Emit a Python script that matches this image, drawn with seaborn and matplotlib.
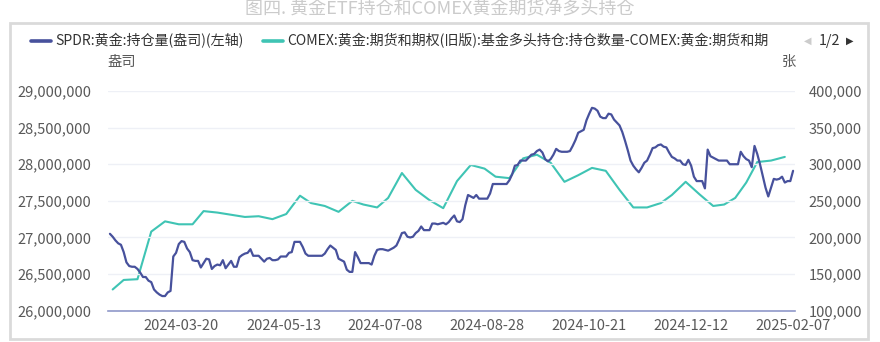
import numpy as np
import pandas as pd
import matplotlib
matplotlib.use("Agg")
import matplotlib.pyplot as plt
import seaborn as sns
from matplotlib.patches import Rectangle
from matplotlib.ticker import FuncFormatter, FixedLocator

sns.set_theme(style="white")
plt.rcParams["font.family"] = ["Noto Sans CJK SC", "DejaVu Sans"]
plt.rcParams["axes.unicode_minus"] = False

# US trading calendar for the SPDR series (category axis, one slot per trading day)
holidays = ["2024-02-19", "2024-03-29", "2024-05-27", "2024-06-19", "2024-07-04",
            "2024-09-02", "2024-11-28", "2024-12-25", "2025-01-01", "2025-01-09",
            "2025-01-20"]
trade_days = pd.bdate_range("2024-02-12", "2025-02-07").difference(pd.to_datetime(holidays))

# SPDR gold holdings, million ounces, one value per trading day
spdr_moz = [
    27.05, 27.01, 26.96, 26.92, 26.90, 26.80, 26.66, 26.61, 26.60, 26.60,
    26.57, 26.52, 26.46, 26.46, 26.41, 26.39, 26.29, 26.25, 26.22, 26.20,
    26.20, 26.25, 26.27, 26.74, 26.79, 26.91, 26.95, 26.94, 26.85, 26.80,
    26.69, 26.68, 26.68, 26.59, 26.65, 26.71, 26.70, 26.57, 26.61, 26.63,
    26.62, 26.69, 26.58, 26.63, 26.68, 26.60, 26.60, 26.73, 26.76, 26.78,
    26.79, 26.84, 26.75, 26.75, 26.75, 26.71, 26.67, 26.71, 26.72, 26.69,
    26.69, 26.70, 26.74, 26.74, 26.74, 26.79, 26.80, 26.94, 26.94, 26.94,
    26.87, 26.78, 26.75, 26.75, 26.75, 26.75, 26.75, 26.75, 26.78, 26.84,
    26.89, 26.86, 26.83, 26.71, 26.69, 26.67, 26.56, 26.53, 26.53, 26.80,
    26.73, 26.65, 26.65, 26.65, 26.65, 26.63, 26.75, 26.83, 26.84, 26.84,
    26.83, 26.82, 26.84, 26.86, 26.89, 26.97, 27.06, 27.07, 27.01, 27.00,
    27.01, 27.06, 27.09, 27.15, 27.10, 27.10, 27.10, 27.19, 27.19, 27.18,
    27.19, 27.20, 27.18, 27.21, 27.26, 27.30, 27.22, 27.21, 27.25, 27.44,
    27.58, 27.56, 27.54, 27.58, 27.53, 27.53, 27.53, 27.53, 27.60, 27.73,
    27.73, 27.73, 27.73, 27.73, 27.73, 27.78, 27.86, 27.98, 27.99, 28.05,
    28.05, 28.05, 28.09, 28.13, 28.14, 28.18, 28.20, 28.16, 28.07, 28.04,
    28.07, 28.13, 28.21, 28.18, 28.17, 28.17, 28.17, 28.18, 28.25, 28.33,
    28.43, 28.45, 28.47, 28.60, 28.69, 28.77, 28.76, 28.73, 28.65, 28.63,
    28.63, 28.69, 28.68, 28.61, 28.57, 28.53, 28.44, 28.32, 28.19, 28.05,
    27.98, 27.93, 27.89, 27.95, 28.02, 28.05, 28.13, 28.22, 28.23, 28.26,
    28.27, 28.24, 28.23, 28.16, 28.10, 28.08, 28.05, 28.05, 28.00, 27.99,
    28.06, 27.98, 27.83, 27.77, 27.77, 27.77, 27.67, 28.20, 28.11, 28.09,
    28.07, 28.05, 28.05, 28.05, 28.05, 28.00, 28.00, 28.00, 28.00, 28.17,
    28.11, 28.07, 28.05, 27.96, 28.25, 28.14, 28.00, 27.84, 27.68, 27.56,
    27.68, 27.80, 27.79, 27.80, 27.83, 27.75, 27.77, 27.77, 27.91,
]

# COMEX managed-money net long (contracts), weekly CFTC report dates (Tuesdays)
comex_dates = pd.date_range("2024-02-13", "2025-02-04", freq="W-TUE")
comex_net = [
    129000, 142000, 143000, 208000, 222000, 218000, 218000, 236000, 234000, 231000,
    228000, 229000, 225000, 232000, 257000, 247000, 243000, 235000, 250000, 245000,
    241000, 254000, 288000, 265000, 251000, 240000, 277000, 299000, 294000, 283000,
    281000, 308000, 313000, 302000, 276000, 285000, 295000, 291000, 265000, 241000,
    241000, 247000, 258000, 276000, 259000, 243000, 245000, 254000, 275000, 303000,
    305000, 310000,
]

tick_dates = ["2024-03-20", "2024-05-13", "2024-07-08", "2024-08-28",
              "2024-10-21", "2024-12-12", "2025-02-07"]

spdr_label = "SPDR:黄金:持仓量(盎司)(左轴)"
comex_label = "COMEX:黄金:期货和期权(旧版):基金多头持仓:持仓数量-COMEX:黄金:期货和期"

spdr_df = pd.DataFrame({"pos": np.arange(len(trade_days)),
                        "value": np.array(spdr_moz) * 1_000_000})
comex_df = pd.DataFrame({"pos": trade_days.get_indexer(comex_dates),
                         "value": comex_net})

SPDR_COLOR = "#47519c"
COMEX_COLOR = "#3fc4b4"
TEXT = "#595959"

W, H = 880, 342
fig = plt.figure(figsize=(W / 100, H / 100), dpi=100)
fig.patch.set_facecolor("white")

# outer frame
fig.add_artist(Rectangle((10 / W, 1 - 339 / H), 858 / W, (339 - 23) / H,
                         transform=fig.transFigure, fill=False,
                         edgecolor="#dadada", linewidth=2.0))

L, R, T, B = 108, 795, 91, 310.7
ax = fig.add_axes([L / W, 1 - B / H, (R - L) / W, (B - T) / H])
ax2 = ax.twinx()

sns.lineplot(data=spdr_df, x="pos", y="value", ax=ax, color=SPDR_COLOR,
             linewidth=1.6, label=spdr_label, legend=False)
sns.lineplot(data=comex_df, x="pos", y="value", ax=ax2, color=COMEX_COLOR,
             linewidth=1.5, label=comex_label, legend=False)

n = len(trade_days)
ax.set_xlim(-0.7, n - 1 + 0.7)
ax.set_ylim(26_000_000, 29_000_000)
ax2.set_ylim(100_000, 400_000)
ax.set_yticks(np.arange(26_000_000, 29_000_001, 500_000))
ax2.set_yticks(np.arange(100_000, 400_001, 50_000))

comma = FuncFormatter(lambda v, p: f"{int(round(v)):,}")
ax.yaxis.set_major_formatter(comma)
ax2.yaxis.set_major_formatter(comma)

tick_pos = trade_days.get_indexer(pd.to_datetime(tick_dates))
ax.xaxis.set_major_locator(FixedLocator(tick_pos))
ax.set_xticklabels(tick_dates)

for a in (ax, ax2):
    a.set_xlabel("")
    a.set_ylabel("")
    for s in a.spines.values():
        s.set_visible(False)
    a.tick_params(length=0, labelsize=10.5, labelcolor=TEXT)
    a.set_facecolor("none")
ax.tick_params(axis="y", pad=12)
ax2.tick_params(axis="y", pad=10)
ax.tick_params(axis="x", pad=6)

ax.grid(axis="y", color="#eef0f6", linewidth=1.0)
ax.grid(axis="x", visible=False)
ax2.grid(False)
ax.spines["bottom"].set_visible(True)
ax.spines["bottom"].set_color("#8f98c9")
ax.spines["bottom"].set_linewidth(1.2)
ax.set_zorder(ax2.get_zorder() + 1)
ax.patch.set_visible(False)

# title
fig.text(440 / W, 1 - 9 / H, "图四. 黄金ETF持仓和COMEX黄金期货净多头持仓",
         ha="center", va="center", fontsize=13, color="#cbcbcb")

# legend row
h1, l1 = ax.get_legend_handles_labels()
h2, l2 = ax2.get_legend_handles_labels()
leg = fig.legend(h1 + h2, l1 + l2, loc="center left",
                 bbox_to_anchor=(31 / W, 1 - 41 / H), ncol=2, frameon=False,
                 fontsize=10.1, handlelength=1.4, handletextpad=0.3,
                 columnspacing=1.45, borderpad=0, borderaxespad=0,
                 labelcolor="#333333")
for line in leg.get_lines():
    line.set_linewidth(2.6)

fig.text(808 / W, 1 - 41 / H, "◀", ha="center", va="center", fontsize=7,
         color="#cccccc", family=["DejaVu Sans"])
fig.text(829 / W, 1 - 41 / H, "1/2", ha="center", va="center", fontsize=10.3,
         color="#333333")
fig.text(850 / W, 1 - 41 / H, "▶", ha="center", va="center", fontsize=7,
         color="#333333", family=["DejaVu Sans"])

# axis units
fig.text(122 / W, 1 - 62 / H, "盎司", ha="center", va="center", fontsize=10.3,
         color=TEXT)
fig.text(789 / W, 1 - 62 / H, "张", ha="center", va="center", fontsize=10.3,
         color=TEXT)

fig.savefig("out.png", dpi=100, facecolor="white")
